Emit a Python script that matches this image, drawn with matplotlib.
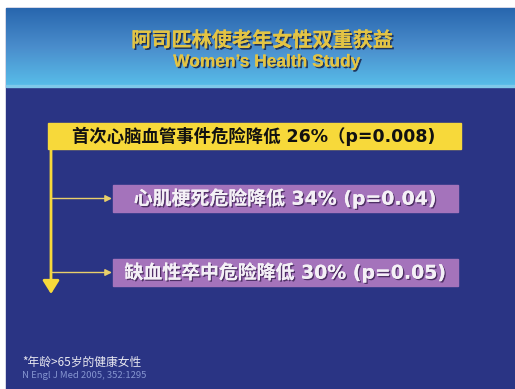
import numpy as np
import matplotlib.pyplot as plt
import matplotlib.patheffects as pe
from matplotlib.colors import LinearSegmentedColormap
from matplotlib.patches import Rectangle, FancyArrowPatch

plt.rcParams['font.family'] = ['Noto Sans CJK SC', 'DejaVu Sans']
LATIN_FIRST = ['DejaVu Sans', 'Noto Sans CJK SC']

title = '阿司匹林使老年女性双重获益'
subtitle = "Women\u2019s Health Study"
outcomes = ['首次心脑血管事件危险降低', '心肌梗死危险降低', '缺血性卒中危险降低']
reductions = [26, 34, 30]
p_values = ['0.008', '0.04', '0.05']
footnote = '*年龄>65岁的健康女性'
reference = 'N Engl J Med 2005, 352:1295'

W, H = 515, 389
fig = plt.figure(figsize=(W / 100, H / 100), dpi=100)
ax = fig.add_axes([0, 0, 1, 1])
ax.set_xlim(0, W)
ax.set_ylim(H, 0)
ax.axis('off')

# slide area
left, top = 6, 8
navy = '#2a3484'
ax.add_patch(Rectangle((left, top), W - left, H - top, color=navy, zorder=0))

# header gradient
grad = LinearSegmentedColormap.from_list('hdr', ['#2866ae', '#4a8dcc', '#58bde9'])
ax.imshow(np.linspace(0, 1, 200).reshape(-1, 1), cmap=grad, aspect='auto',
          extent=[left, W, 86, top], zorder=1)
ax.add_patch(Rectangle((left, 85), W - left, 2, color='#7fc9ea', zorder=2))

shadow = [pe.withSimplePatchShadow(offset=(1.2, -1.2), shadow_rgbFace='#1a2a50', alpha=0.9),
          pe.Normal()]
ax.text(262, 40, title, ha='center', va='center', fontsize=14.5, fontweight='bold',
        color='#e3c444', path_effects=shadow, zorder=3)
ax.text(267, 62, subtitle, ha='center', va='center', fontsize=12.5, fontweight='bold',
        family='Liberation Sans', color='#e3c444', path_effects=shadow, zorder=3)

yellow = '#f7d93a'
purple = '#a473bb'

labels = []
for i, (name, r, p) in enumerate(zip(outcomes, reductions, p_values)):
    if i == 0:
        labels.append(f'{name} {r}%\uff08p={p})')
    else:
        labels.append(f'{name} {r}% (p={p})')

# main box
ax.add_patch(Rectangle((48, 123), 413, 26, color=yellow, zorder=2))
ax.text(254, 136.5, labels[0], ha='center', va='center', fontsize=12.5,
        fontweight='bold', family=LATIN_FIRST, color='#111111', zorder=3)

# vertical arrow
ax.add_patch(FancyArrowPatch((51, 148), (51, 294), arrowstyle='-|>,head_length=8,head_width=5',
                             mutation_scale=1, color=yellow, lw=2, zorder=2,
                             shrinkA=0, shrinkB=0))

text_shadow = [pe.withSimplePatchShadow(offset=(1, -1), shadow_rgbFace='#3a2050', alpha=0.8),
               pe.Normal()]
for label, yc in zip(labels[1:], [198.5, 272.5]):
    ax.add_patch(Rectangle((113, yc - 13.5), 345, 27, color=purple, zorder=2))
    ax.add_patch(FancyArrowPatch((52, yc), (112, yc), arrowstyle='-|>,head_length=4,head_width=2',
                                 mutation_scale=1, color='#e9cf6a', lw=1, zorder=2,
                                 shrinkA=0, shrinkB=0))
    ax.text(285, yc, label, ha='center', va='center', fontsize=13.6,
            fontweight='bold', family=LATIN_FIRST, color='#f4f0f6',
            path_effects=text_shadow, zorder=3)

ax.text(22, 362, footnote, ha='left', va='center', fontsize=8.5, color='#e8e8f0', zorder=3)
ax.text(22, 375, reference, ha='left', va='center', fontsize=6.8, color='#8595d0', zorder=3)

fig.savefig('out.png', dpi=100)
